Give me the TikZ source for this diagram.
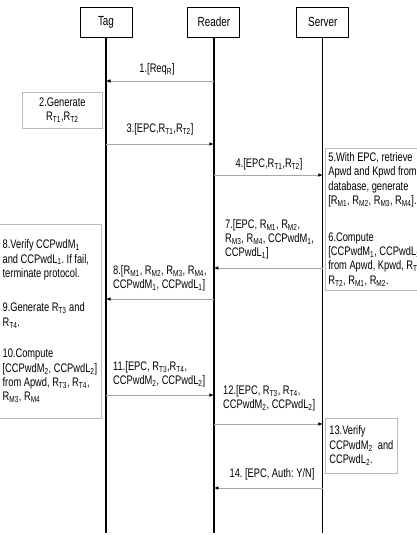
\documentclass[tikz,border=0pt]{standalone}
\usepackage{fontspec}
\setmainfont{Liberation Sans}[FakeStretch=0.75]
\usetikzlibrary{positioning, arrows.meta, calc}

\begin{document}
\frenchspacing
\begin{tikzpicture}[
  x=1pt, y=-1pt,
  every node/.style={font=\fontsize{12.4}{14.4}\selectfont},
  head/.style = {draw, line width=0.9pt, minimum width=52pt, minimum height=30pt, inner sep=0pt, font=\fontsize{13.2}{15}\selectfont},
  life/.style = {line width=1.2pt},
  note/.style = {draw=gray!55, line width=0.7pt, inner xsep=3pt, inner ysep=2pt},
  lbl/.style  = {inner sep=0pt, align=flush left, anchor=north west},
  msg/.style  = {-{Latex[length=4.5pt,width=3.6pt,color=black]}, gray!70, line width=0.7pt},
]
  \clip (0,0) rectangle (417,535);
  \useasboundingbox (0,0) rectangle (417,535);
  % participants
  \node[head] (tag) at (106,22) {Tag};
  \node[head, right=55pt of tag] (reader) {Reader};
  \node[head, right=56pt of reader] (server) {Server};
  \coordinate (bottom) at (0,533);
  \foreach \p in {tag,reader,server}\draw[life] (\p.south) -- (\p.south |- bottom);

  % messages
  \foreach \y/\a/\b in {81/reader/tag, 144/tag/reader, 175/reader/server, 268/server/reader,
                        299/reader/tag, 395/tag/reader, 424/reader/server, 488/server/reader}
    \draw[msg] (\a |- 0,\y) -- (\b |- 0,\y);

  \node[inner sep=0pt, anchor=mid] (m1) at (157,70) {1.[Req\textsubscript{R}]};
  \node[inner sep=0pt, anchor=mid] (m3) at (160,130) {3.[EPC,R\textsubscript{T1},R\textsubscript{T2}]};
  \node[inner sep=0pt, anchor=mid] (m4) at (269,165) {4.[EPC,R\textsubscript{T1},R\textsubscript{T2}]};
  \node[lbl] (m7) at (225,219) {7.[EPC, R\textsubscript{M1}, R\textsubscript{M2},\\R\textsubscript{M3}, R\textsubscript{M4}, CCPwdM\textsubscript{1},\\CCPwdL\textsubscript{1}]};
  \node[lbl] (m8) at (113,265) {8.[R\textsubscript{M1}, R\textsubscript{M2}, R\textsubscript{M3}, R\textsubscript{M4},\\CCPwdM\textsubscript{1}, CCPwdL\textsubscript{1}]};
  \node[lbl] (m11) at (113,361) {11.[EPC, R\textsubscript{T3},R\textsubscript{T4},\\CCPwdM\textsubscript{2}, CCPwdL\textsubscript{2}]};
  \node[lbl] (m12) at (223,385) {12.[EPC, R\textsubscript{T3}, R\textsubscript{T4},\\CCPwdM\textsubscript{2}, CCPwdL\textsubscript{2}]};
  \node[inner sep=0pt, anchor=mid] (m14) at (272,475) {14. [EPC, Auth: Y/N]};

  % local steps
  \node[note, anchor=north west, text width=74pt, align=center, minimum height=36pt] (gen) at (22,92)
    {2.Generate\\R\textsubscript{T1},R\textsubscript{T2}};
  \node[note, anchor=north west, text width=118pt, align=flush left, minimum height=142pt] (srv) at (325,148)
    {5.With EPC, retrieve\\Apwd and Kpwd from\\database, generate\\{[}R\textsubscript{M1}, R\textsubscript{M2}, R\textsubscript{M3}, R\textsubscript{M4}].\\[22pt]
     6.Compute\\{[}CCPwdM\textsubscript{1}, CCPwdL\textsubscript{1}]\\from Apwd, Kpwd, R\textsubscript{T1},\\R\textsubscript{T2}, R\textsubscript{M1}, R\textsubscript{M2}.};
  \node[note, anchor=north east, text width=96pt, inner xsep=3pt, align=flush left, minimum height=194pt] (chk) at (102,224)
    {8.Verify CCPwdM\textsubscript{1}\\and CCPwdL\textsubscript{1}. If fail,\\terminate protocol.\\[20pt]
     9.Generate R\textsubscript{T3} and\\R\textsubscript{T4}.\\[17pt]
     10.Compute\\{[}CCPwdM\textsubscript{2},~CCPwdL\textsubscript{2}]\\from Apwd, R\textsubscript{T3}, R\textsubscript{T4},\\R\textsubscript{M3}, R\textsubscript{M4}};
  \node[note, anchor=north west, text width=64pt, inner xsep=4pt, align=justify, minimum height=55pt] (ver) at (325,418)
    {13.Verify CCPwdM\textsubscript{2} and CCPwdL\textsubscript{2}.};
\end{tikzpicture}
\end{document}
